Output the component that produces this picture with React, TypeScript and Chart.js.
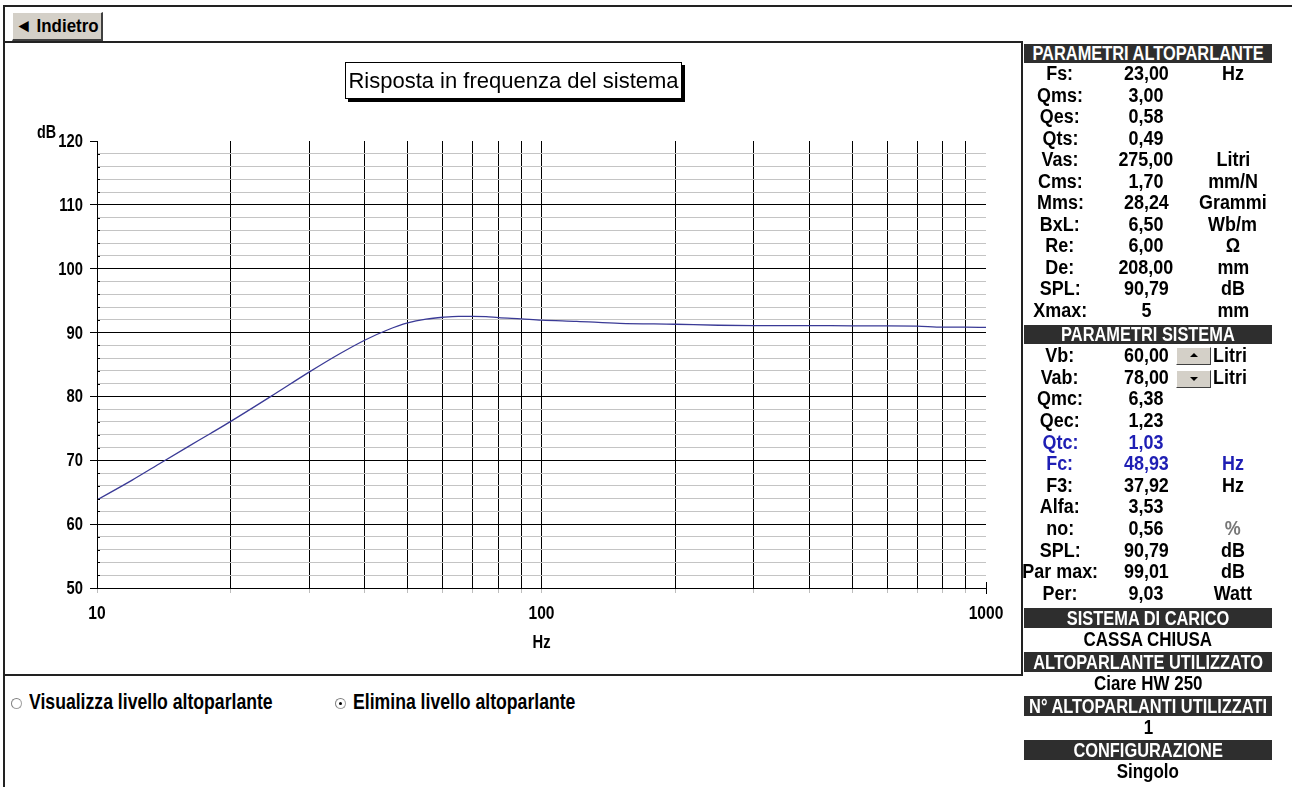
import React, { useEffect, useRef } from 'react';
import { Chart, registerables } from 'chart.js';

Chart.register(...registerables);

// ---- chart data ----
const FREQ_HZ = [10, 12, 14, 16, 18, 20, 25, 30, 35, 40, 45, 50, 55, 60, 65, 70, 75, 80, 90, 100, 120, 150, 200, 250, 300, 400, 500, 600, 700, 800, 900, 1000];
const SPL_DB = [63.8, 66.9, 69.7, 72.1, 74.2, 76.1, 80.3, 83.8, 86.6, 88.8, 90.4, 91.5, 92.1, 92.4, 92.55, 92.55, 92.5, 92.35, 92.15, 91.95, 91.75, 91.45, 91.3, 91.15, 91.1, 91.1, 91.05, 91.05, 91.0, 90.85, 90.85, 90.8];
const X_TICKS = [10, 20, 30, 40, 50, 60, 70, 80, 90, 100, 200, 300, 400, 500, 600, 700, 800, 900, 1000];
const X_LABELS = [10, 100, 1000];
const X_MIN = 10;
const X_MAX = 1000;
const Y_MIN = 50;
const Y_MAX = 120;
const Y_STEP = 2;
const Y_MAJOR = 10;

// ---- side panel texts ----
const SPEAKER_LABELS = ['Fs:', 'Qms:', 'Qes:', 'Qts:', 'Vas:', 'Cms:', 'Mms:', 'BxL:', 'Re:', 'De:', 'SPL:', 'Xmax:'];
const SPEAKER_VALUES = ['23,00', '3,00', '0,58', '0,49', '275,00', '1,70', '28,24', '6,50', '6,00', '208,00', '90,79', '5'];
const SPEAKER_UNITS = ['Hz', '', '', '', 'Litri', 'mm/N', 'Grammi', 'Wb/m', 'Ω', 'mm', 'dB', 'mm'];
const SYSTEM_LABELS = ['Vb:', 'Vab:', 'Qmc:', 'Qec:', 'Qtc:', 'Fc:', 'F3:', 'Alfa:', 'no:', 'SPL:', 'Par max:', 'Per:'];
const SYSTEM_VALUES = ['60,00', '78,00', '6,38', '1,23', '1,03', '48,93', '37,92', '3,53', '0,56', '90,79', '99,01', '9,03'];
const SYSTEM_UNITS = ['Litri', 'Litri', '', '', '', 'Hz', 'Hz', '', '%', 'dB', 'dB', 'Watt'];
const SYSTEM_BLUE = ['Qtc:', 'Fc:'];
const TAIL = [
  ['SISTEMA DI CARICO', 'CASSA CHIUSA'],
  ['ALTOPARLANTE UTILIZZATO', 'Ciare HW 250'],
  ['N° ALTOPARLANTI UTILIZZATI', '1'],
  ['CONFIGURAZIONE', 'Singolo'],
];

const FONT = '"Liberation Sans", Arial, sans-serif';
const SQUEEZE = 0.82; // emulates a narrow bold face
const PANEL_LEFT = 1024;
const PANEL_W = 248;
const LABEL_CX = 1060;
const VALUE_CX = 1146;
const UNIT_CX = 1233;

const axisMarks = {
  id: 'axisMarks',
  afterDraw(chart: any) {
    const { ctx, scales } = chart;
    const x = scales.x;
    const y = scales.y;
    ctx.save();
    ctx.strokeStyle = '#000';
    ctx.lineWidth = 1;
    // small inner ticks for minor dB steps
    y.ticks.forEach((t: any) => {
      if (t.value % Y_MAJOR !== 0) {
        const py = Math.round(y.getPixelForValue(t.value)) + 0.5;
        ctx.beginPath();
        ctx.moveTo(x.left, py);
        ctx.lineTo(x.left + 3, py);
        ctx.stroke();
      }
    });
    const px = Math.round(x.getPixelForValue(X_MAX)) + 0.5;
    ctx.beginPath();
    ctx.moveTo(px, y.bottom - 6);
    ctx.lineTo(px, y.bottom + 6);
    ctx.stroke();

    // condensed tick labels
    ctx.fillStyle = '#000';
    ctx.font = 'bold 18px ' + FONT;
    ctx.textAlign = 'right';
    ctx.textBaseline = 'middle';
    y.ticks.forEach((t: any) => {
      if (t.value % Y_MAJOR === 0) {
        const py = y.getPixelForValue(t.value);
        ctx.save();
        ctx.translate(x.left - 14, py + 1);
        ctx.scale(SQUEEZE, 1);
        ctx.fillText(String(t.value), 0, 0);
        ctx.restore();
      }
    });
    ctx.font = 'bold 19px ' + FONT;
    ctx.textAlign = 'center';
    ctx.textBaseline = 'middle';
    X_LABELS.forEach((v) => {
      const p = x.getPixelForValue(v);
      ctx.save();
      ctx.translate(p, y.bottom + 26);
      ctx.scale(SQUEEZE, 1);
      ctx.fillText(String(v), 0, 0);
      ctx.restore();
    });
    ctx.font = 'bold 18px ' + FONT;
    ctx.save();
    ctx.translate((x.left + x.right) / 2, y.bottom + 55);
    ctx.scale(SQUEEZE, 1);
    ctx.fillText('Hz', 0, 0);
    ctx.restore();
    ctx.restore();
  },
};

function FreqChart() {
  const ref = useRef<HTMLCanvasElement | null>(null);
  useEffect(() => {
    if (!ref.current) return;
    const chart = new Chart(ref.current, {
      type: 'line',
      data: {
        datasets: [
          {
            data: FREQ_HZ.map((f, i) => ({ x: f, y: SPL_DB[i] })),
            borderColor: '#3a3a96',
            borderWidth: 1.3,
            pointRadius: 0,
            cubicInterpolationMode: 'monotone',
            fill: false,
          },
        ],
      },
      options: {
        responsive: false,
        animation: false,
        maintainAspectRatio: false,
        layout: { padding: { left: 0, top: 141, right: 34, bottom: 0 } },
        plugins: { legend: { display: false }, tooltip: { enabled: false }, title: { display: false } },
        scales: {
          x: {
            type: 'logarithmic',
            min: X_MIN,
            max: X_MAX,
            afterBuildTicks: (s: any) => {
              s.ticks = X_TICKS.map((v) => ({ value: v, major: X_LABELS.includes(v) }));
            },
            afterFit: (s: any) => {
              s.height = 86;
            },
            border: { display: true, color: '#000', width: 1 },
            grid: {
              color: (c: any) => (c.tick && c.tick.value === X_MAX ? 'rgba(0,0,0,0)' : '#000'),
              lineWidth: 1,
              tickLength: 5,
              tickColor: '#bdbdbd',
            },
            ticks: { display: false, autoSkip: false },
            title: { display: false },
          },
          y: {
            min: Y_MIN,
            max: Y_MAX,
            afterFit: (s: any) => {
              s.width = 97;
            },
            border: { display: true, color: '#000', width: 1 },
            grid: {
              color: (c: any) => {
                const v = c.tick ? c.tick.value : 0;
                if (v === Y_MAX) return 'rgba(0,0,0,0)';
                return v % Y_MAJOR === 0 ? '#000' : '#c4c4c4';
              },
              tickColor: (c: any) => {
                const v = c.tick ? c.tick.value : 0;
                return v % Y_MAJOR === 0 ? '#000' : 'rgba(0,0,0,0)';
              },
              lineWidth: 1,
              tickLength: 7,
            },
            ticks: { display: false, stepSize: Y_STEP, autoSkip: false },
          },
        },
      },
      plugins: [axisMarks],
    } as any);
    return () => chart.destroy();
  }, []);
  return (
    <canvas
      ref={ref}
      width={1020}
      height={674}
      style={{ position: 'absolute', left: 0, top: 0, width: 1020, height: 674 }}
    />
  );
}

const abs = (l: number, t: number, w: number, h: number, extra: any = {}) => ({
  position: 'absolute' as const,
  left: l,
  top: t,
  width: w,
  height: h,
  ...extra,
});

function Txt({ l, t, w, h, size, align = 'center', color = '#000', bg, weight = 'bold', squeeze = SQUEEZE, children }: any) {
  const jc = align === 'left' ? 'flex-start' : align === 'right' ? 'flex-end' : 'center';
  return (
    <div
      style={abs(l, t, w, h, {
        display: 'flex',
        alignItems: 'center',
        justifyContent: jc,
        background: bg,
        color,
        fontFamily: FONT,
        fontWeight: weight,
        fontSize: size,
        lineHeight: 1,
        whiteSpace: 'nowrap',
      })}
    >
      <span
        style={{
          display: 'inline-block',
          flex: 'none',
          transform: `scaleX(${squeeze})`,
          transformOrigin: align === 'left' ? 'left center' : align === 'right' ? 'right center' : 'center center',
        }}
      >
        {children}
      </span>
    </div>
  );
}

function Header({ cy, text }: { cy: number; text: string }) {
  return (
    <Txt l={PANEL_LEFT} t={cy - 9.5} w={PANEL_W} h={19.5} size={20} color="#fff" bg="#2e2e2e">
      {text}
    </Txt>
  );
}

function Cell({ cy, cx, text, color = '#000', align = 'center', squeeze = 0.92 }: any) {
  const w = 90;
  const l = align === 'left' ? cx : cx - w / 2;
  return (
    <Txt l={l} t={cy - 11} w={w} h={22} size={19.5} color={color} align={align} squeeze={squeeze}>
      {text}
    </Txt>
  );
}

function Spin({ cy, dir }: { cy: number; dir: 'up' | 'down' }) {
  return (
    <div
      style={abs(1176, cy - 8.5, 35, 18, {
        background: '#d4d0c8',
        borderTop: '1px solid #fff',
        borderLeft: '1px solid #fff',
        borderRight: '1px solid #404040',
        borderBottom: '1px solid #404040',
        boxSizing: 'border-box',
      })}
    >
      <div
        style={{
          position: 'absolute',
          left: 13,
          top: dir === 'up' ? 5 : 6,
          width: 0,
          height: 0,
          borderLeft: '4px solid transparent',
          borderRight: '4px solid transparent',
          ...(dir === 'up' ? { borderBottom: '4px solid #000' } : { borderTop: '4px solid #000' }),
        }}
      />
    </div>
  );
}

function Radio({ x, y, checked, label }: any) {
  return (
    <>
      <div
        style={abs(x - 5, y - 5, 11, 11, {
          borderRadius: '50%',
          border: '1px solid #a0a0a0',
          borderTopColor: '#808080',
          borderLeftColor: '#808080',
          background: '#fff',
          boxSizing: 'border-box',
        })}
      >
        {checked ? <div style={abs(3, 3, 3, 3, { borderRadius: '50%', background: '#000' })} /> : null}
      </div>
      <Txt l={x + 13} t={y - 12} w={340} h={24} size={21.5} align="left">
        {label}
      </Txt>
    </>
  );
}

export default function App() {
  useEffect(() => {
    document.body.style.margin = '0';
    document.body.style.background = '#fff';
  }, []);

  const rows: any[] = [];
  rows.push(<Header key="h1" cy={53} text="PARAMETRI ALTOPARLANTE" />);
  SPEAKER_LABELS.forEach((lab, k) => {
    const cy = 74 + k * 21.5;
    rows.push(<Cell key={'sl' + k} cy={cy} cx={LABEL_CX} text={lab} />);
    rows.push(<Cell key={'sv' + k} cy={cy} cx={VALUE_CX} text={SPEAKER_VALUES[k]} />);
    rows.push(<Cell key={'su' + k} cy={cy} cx={UNIT_CX} text={SPEAKER_UNITS[k]} />);
  });
  rows.push(<Header key="h2" cy={334} text="PARAMETRI SISTEMA" />);
  SYSTEM_LABELS.forEach((lab, k) => {
    const cy = 356 + k * 21.6;
    const blue = SYSTEM_BLUE.includes(lab);
    const color = blue ? '#1e1eb4' : '#000';
    rows.push(<Cell key={'yl' + k} cy={cy} cx={LABEL_CX} text={lab} color={color} />);
    rows.push(<Cell key={'yv' + k} cy={cy} cx={VALUE_CX} text={SYSTEM_VALUES[k]} color={color} />);
    if (k < 2) {
      rows.push(<Spin key={'sp' + k} cy={cy + (k === 0 ? -1 : 1)} dir={k === 0 ? 'up' : 'down'} />);
      rows.push(<Cell key={'yu' + k} cy={cy} cx={1213} text={SYSTEM_UNITS[k]} align="left" />);
    } else {
      const uc = SYSTEM_UNITS[k] === '%' ? '#777' : color;
      rows.push(<Cell key={'yu' + k} cy={cy} cx={UNIT_CX} text={SYSTEM_UNITS[k]} color={uc} />);
    }
  });
  TAIL.forEach(([h, v], k) => {
    const cy = 617.5 + k * 44;
    rows.push(<Header key={'th' + k} cy={cy} text={h} />);
    rows.push(
      <Txt key={'tv' + k} l={PANEL_LEFT} t={cy + 11} w={PANEL_W} h={22} size={19.5} squeeze={0.87}>
        {v}
      </Txt>
    );
  });

  return (
    <div style={abs(0, 0, 1292, 787, { background: '#fff', overflow: 'hidden' })}>
      <FreqChart />
      {/* frame lines */}
      <div style={abs(3, 5, 1289, 2, { background: '#222' })} />
      <div style={abs(3, 5, 2, 782, { background: '#222' })} />
      <div style={abs(3, 41, 1020, 2, { background: '#222' })} />
      <div style={abs(1021, 41, 2, 635, { background: '#222' })} />
      <div style={abs(3, 674, 1020, 2, { background: '#222' })} />
      {/* back button */}
      <div
        style={abs(12, 12, 91, 29, {
          background: '#d4d0c8',
          borderTop: '1px solid #fff',
          borderLeft: '1px solid #fff',
          borderRight: '2px solid #404040',
          borderBottom: '2px solid #404040',
          boxSizing: 'border-box',
        })}
      />
      <Txt l={12} t={12} w={89} h={27} size={19} squeeze={0.89}>
        ◄ Indietro
      </Txt>
      {/* chart title */}
      <div
        style={abs(345, 62, 337, 37, {
          border: '1px solid #000',
          boxShadow: '3px 3px 0 #000',
          background: '#fff',
          boxSizing: 'border-box',
        })}
      />
      <Txt l={345} t={62} w={337} h={37} size={22} weight="normal" squeeze={1}>
        Risposta in frequenza del sistema
      </Txt>
      <Txt l={28} t={122} w={38} h={22} size={17.5}>
        dB
      </Txt>
      <Radio x={16} y={703} checked={false} label="Visualizza livello altoparlante" />
      <Radio x={340} y={703} checked={true} label="Elimina livello altoparlante" />
      {rows}
    </div>
  );
}
